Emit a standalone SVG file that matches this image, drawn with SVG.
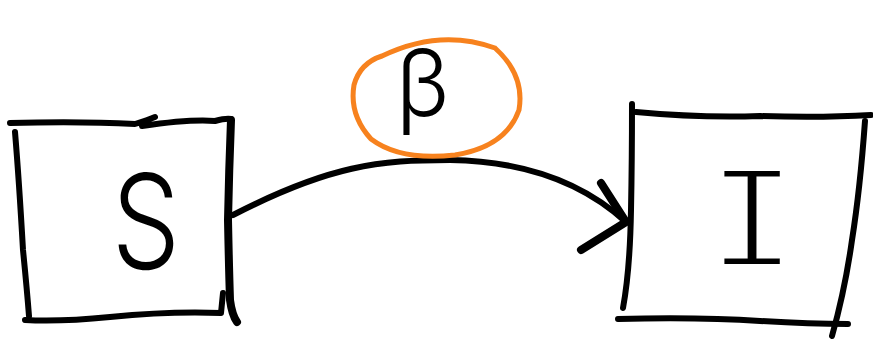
<svg xmlns="http://www.w3.org/2000/svg" width="873" height="344" viewBox="0 0 873 344">
<style>
.ink{fill:none;stroke:#000;stroke-width:6;stroke-linecap:round;stroke-linejoin:round}
.thick{stroke-width:8}
.orange{fill:none;stroke:#F7821E;stroke-width:5;stroke-linecap:round}
.lbl{fill:#000;font-family:Inter,"DejaVu Sans",sans-serif;font-weight:300;text-anchor:middle}
.serifI{fill:#000;font-family:Inter,"DejaVu Sans",sans-serif;font-weight:250;text-anchor:middle;font-feature-settings:"cv08" 1}
</style>
<rect width="873" height="344" fill="#fff"/>
<g id="node-S">
<path class="ink" d="M 10 123 Q 80 121 135 124 Q 148 120 155 117 M 142 126 Q 190 119 215 121 Q 226 118 231 119"/>
<path class="ink" d="M 15 132 Q 19 180 23 250 Q 27 290 29 316"/>
<path class="ink thick" d="M 231 120 Q 229 170 228 220 Q 229 270 230 300 Q 232 315 237 322"/>
<path class="ink" d="M 25 320 Q 60 322 110 317 Q 170 311 221 313 L 223 293"/>
<text class="lbl" x="0" y="0" font-size="132" transform="translate(146 269) scale(0.82 1)">S</text>
</g>
<g id="node-I">
<path class="ink" d="M 632 104 Q 632 160 631 210 Q 630 270 623 308"/>
<path class="ink" d="M 636 112 Q 700 118 760 116 Q 820 118 871 115"/>
<path class="ink" d="M 865 121 Q 860 190 852 240 Q 845 290 832 336"/>
<path class="ink" d="M 618 319 Q 700 317 760 321 Q 810 324 848 324"/>
<text class="serifI" x="0" y="0" font-size="128" transform="translate(752 264) scale(1.5 1)">I</text>
</g>
<g id="connectors">
<path class="ink" d="M 233 215 C 330 165 380 160 450 160 C 520 161 580 180 626 222"/>
<path class="ink thick" d="M 601 183 L 626 222 L 581 250"/>
<g id="label-beta">
<path class="orange" d="M 382 56 Q 440 28 495 48 Q 525 75 519 110 Q 506 147 455 155 Q 400 161 371 139 Q 349 115 354 85 Q 360 63 382 56"/>
<text class="lbl" x="423" y="116" font-size="92" font-weight="500">β</text>
</g>
</g>
</svg>
